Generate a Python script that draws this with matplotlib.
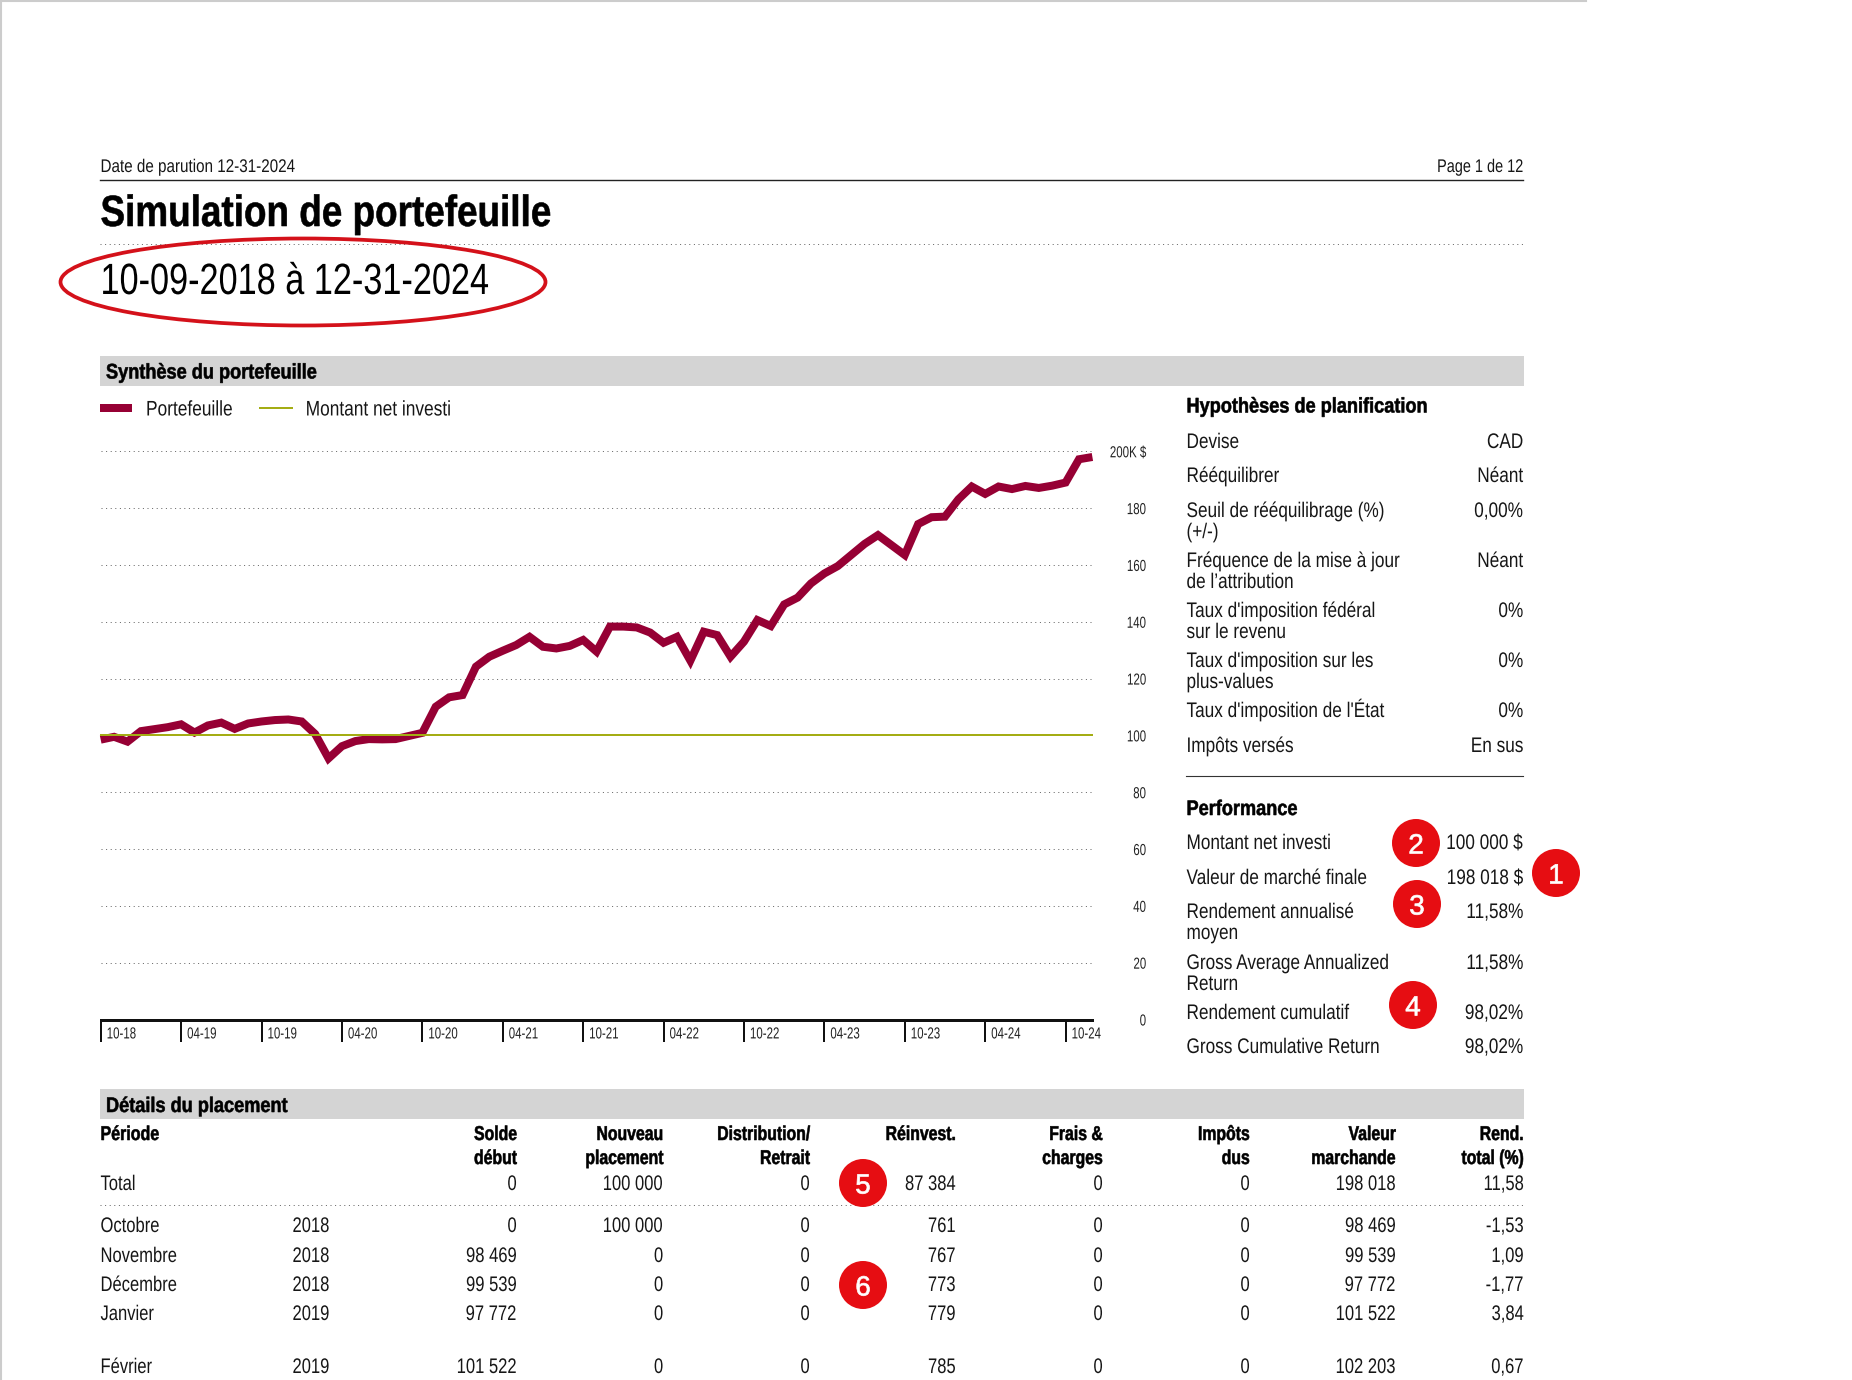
import matplotlib
matplotlib.use("Agg")
import matplotlib.pyplot as plt
from matplotlib.patches import Ellipse, Rectangle
from matplotlib.path import Path
from matplotlib.patheffects import AbstractPathEffect
from matplotlib.transforms import Affine2D, ScaledTranslation

plt.rcParams["font.family"] = ["Liberation Sans", "DejaVu Sans"]

WIDTH, HEIGHT = 1852, 1380
PX = 0.72  # points per pixel at dpi 100

# Portfolio value in thousands, month by month from 10-18 to 12-24
portfolio = [
    98.5, 99.5, 97.8, 101.5, 102.2, 102.9, 103.9, 101.0, 103.5, 104.5,
    102.3, 104.2, 104.9, 105.4, 105.6, 104.9, 100.5, 91.9, 96.2, 98.0,
    98.7, 98.6, 98.7, 99.8, 100.9, 110.1, 113.4, 114.2, 124.2, 127.7,
    129.8, 131.8, 134.7, 131.2, 130.6, 131.5, 133.6, 129.5, 138.3, 138.3,
    138.0, 136.2, 132.6, 134.7, 126.3, 136.5, 135.3, 127.7, 133.0, 140.6,
    138.5, 146.1, 148.5, 153.5, 157.0, 159.6, 163.5, 167.4, 170.5, 167.0,
    163.5, 174.4, 176.8, 177.0, 183.1, 187.6, 185.0, 187.6, 186.7, 187.8,
    187.1, 187.9, 189.0, 197.2, 198.0,
]
net_invested = [100.0] * len(portfolio)
x_ticks = [0, 6, 12, 18, 24, 30, 36, 42, 48, 54, 60, 66, 72]
x_labels = ["10-18", "04-19", "10-19", "04-20", "10-20", "04-21", "10-21",
            "04-22", "10-22", "04-23", "10-23", "04-24", "10-24"]
y_ticks = [0, 20, 40, 60, 80, 100, 120, 140, 160, 180, 200]
y_labels = ["0", "20", "40", "60", "80", "100", "120", "140", "160", "180", "200K $"]

# Planning assumptions: label lines, value
assumption_labels = ["Devise", "Rééquilibrer", "Seuil de rééquilibrage (%)\n(+/-)",
                     "Fréquence de la mise à jour\nde l’attribution",
                     "Taux d'imposition fédéral\nsur le revenu",
                     "Taux d'imposition sur les\nplus-values",
                     "Taux d'imposition de l'État", "Impôts versés"]
assumption_values = ["CAD", "Néant", "0,00%", "Néant", "0%", "0%", "0%", "En sus"]
assumption_rows = [448, 482, 517, 567, 617, 667, 717, 752]

performance_labels = ["Montant net investi", "Valeur de marché finale",
                      "Rendement annualisé\nmoyen", "Gross Average Annualized\nReturn",
                      "Rendement cumulatif", "Gross Cumulative Return"]
performance_values = ["100 000 $", "198 018 $", "11,58%", "11,58%", "98,02%", "98,02%"]
performance_rows = [849, 884, 918, 969, 1019, 1053]

# Investment detail table
column_heads = [("Solde", "début"), ("Nouveau", "placement"), ("Distribution/", "Retrait"),
                ("Réinvest.", ""), ("Frais &", "charges"), ("Impôts", "dus"),
                ("Valeur", "marchande"), ("Rend.", "total (%)")]
column_right = [517, 663.5, 810, 956, 1103, 1250, 1396, 1524]
months = ["Total", "Octobre", "Novembre", "Décembre", "Janvier", "Février"]
years = ["", "2018", "2018", "2018", "2019", "2019"]
row_y = [1190, 1232, 1262, 1291, 1320, 1373]
start_balance = ["0", "0", "98 469", "99 539", "97 772", "101 522"]
new_money = ["100 000", "100 000", "0", "0", "0", "0"]
withdrawals = ["0", "0", "0", "0", "0", "0"]
reinvested = ["87 384", "761", "767", "773", "779", "785"]
fees = ["0", "0", "0", "0", "0", "0"]
taxes = ["0", "0", "0", "0", "0", "0"]
market_value = ["198 018", "98 469", "99 539", "97 772", "101 522", "102 203"]
total_return = ["11,58", "-1,53", "1,09", "-1,77", "3,84", "0,67"]
table_columns = [start_balance, new_money, withdrawals, reinvested,
                 fees, taxes, market_value, total_return]

# Numbered red callouts
callouts = [("1", 1556, 873), ("2", 1416, 843), ("3", 1417, 904),
            ("4", 1413, 1005), ("5", 863, 1183), ("6", 863, 1285)]

RED = "#e60d12"
WINE = "#960034"
OLIVE = "#a4ad14"
BAND = "#d4d4d4"
INK = "#161616"
BODY = 15.2


class Condense(AbstractPathEffect):
    """Squeeze glyph outlines sideways, no condensed face being available."""

    def __init__(self, squeeze, anchor=0.0, stroke=0.0):
        super().__init__()
        self.squeeze = squeeze
        self.anchor = anchor
        self.stroke = stroke

    def draw_path(self, renderer, gc, tpath, affine, rgbFace=None):
        extent = tpath.get_extents().x1
        narrow = (Affine2D().scale(self.squeeze, 1)
                  .translate(self.anchor * extent * (1 - self.squeeze), 0))
        path = Path(narrow.transform(tpath.vertices), tpath.codes)
        gc0 = renderer.new_gc()
        gc0.copy_properties(gc)
        if self.stroke:
            gc0.set_foreground(rgbFace)
            gc0.set_linewidth(self.stroke)
        renderer.draw_path(gc0, path, affine, rgbFace)
        gc0.restore()


def main():
    fig = plt.figure(figsize=(WIDTH / 100, HEIGHT / 100), dpi=100)

    # Whole-page layer in pixel coordinates
    page = fig.add_axes([0, 0, 1, 1])
    page.set_xlim(0, WIDTH)
    page.set_ylim(HEIGHT, 0)
    page.axis("off")

    def label(x, y, s, ha="left", size=BODY, color=INK, squeeze=0.815, stroke=0.0):
        anchor = {"left": 0.0, "center": 0.5, "right": 1.0}[ha]
        page.text(x, y, s, ha=ha, va="baseline", fontsize=size, color=color,
                  path_effects=[Condense(squeeze, anchor, stroke)])

    def heading(x, y, s, ha="left", size=15.2, squeeze=0.86):
        page.text(x, y, s, ha=ha, va="baseline", fontsize=size, fontweight="bold",
                  color="black",
                  path_effects=[Condense(squeeze, 1.0 if ha == "right" else 0.0, 0.4)])

    def dotted(y):
        page.plot([100, 1523], [y, y], color="#666666", lw=1 * PX,
                  linestyle=(0, (1, 3.6)), zorder=1)

    # sheet edges
    page.plot([0, 1586], [0.5, 0.5], color="#cccccc", lw=1.5)
    page.plot([0.5, 0.5], [0, HEIGHT], color="#cccccc", lw=1.5)

    # header block
    label(100.5, 172, "Date de parution 12-31-2024", size=13.2, squeeze=0.83)
    label(1523.5, 172, "Page 1 de 12", ha="right", size=13.2, squeeze=0.79)
    page.plot([100, 1523], [180, 180], color="#222222", lw=1)
    heading(100.5, 226, "Simulation de portefeuille", size=31.5, squeeze=0.843)
    dotted(244)
    label(100.5, 294, "10-09-2018 à 12-31-2024", size=31.5, color="black", squeeze=0.783)
    page.add_patch(Ellipse((303, 282), 485, 87, fill=False, edgecolor="#d4111a", lw=2.7, zorder=3))

    # section bands
    page.add_patch(Rectangle((100, 356), 1424, 30, color=BAND, lw=0))
    heading(106, 378.5, "Synthèse du portefeuille")
    page.add_patch(Rectangle((100, 1089), 1424, 30, color=BAND, lw=0))
    heading(106, 1112, "Détails du placement")

    # planning assumptions
    heading(1186.5, 412.5, "Hypothèses de planification")
    for text, value, y in zip(assumption_labels, assumption_values, assumption_rows):
        first, *rest = text.split("\n")
        label(1186.5, y, first)
        if rest:
            label(1186.5, y + 21, rest[0])
        label(1523.5, y, value, ha="right")
    page.plot([1186, 1523], [776, 776], color="#333333", lw=0.8)

    # performance
    heading(1186.5, 815, "Performance")
    for text, value, y in zip(performance_labels, performance_values, performance_rows):
        first, *rest = text.split("\n")
        label(1186.5, y, first)
        if rest:
            label(1186.5, y + 21, rest[0])
        label(1523.5, y, value, ha="right")

    # detail table
    heading(100.5, 1140, "Période", size=14.4, squeeze=0.8)
    for (top, bottom), right in zip(column_heads, column_right):
        heading(right, 1140, top, ha="right", size=14.4, squeeze=0.79)
        heading(right, 1164, bottom, ha="right", size=14.4, squeeze=0.79)
    dotted(1205)
    for i, y in enumerate(row_y):
        label(100.5, y, months[i], squeeze=0.785)
        label(292.5, y, years[i], squeeze=0.785)
        for column, right in zip(table_columns, column_right):
            label(right, y, column[i], ha="right", squeeze=0.785)

    # callouts
    for number, cx, cy in callouts:
        page.add_patch(Ellipse((cx, cy), 48, 48, color=RED, lw=0, zorder=4))
        page.text(cx, cy + 0.5, number, ha="center", va="center_baseline", fontsize=20,
                  color="white", zorder=5, path_effects=[Condense(1.0, 0.5, 0.5)])

    # Value chart, y runs 0 to 200 between the baseline and the top gridline
    top_px, bottom_px = 451.3, 1019.5
    left_px, right_px = 100.7, 1092.4
    ax = fig.add_axes([left_px / WIDTH, 1 - bottom_px / HEIGHT,
                       (right_px - left_px) / WIDTH, (bottom_px - top_px) / HEIGHT])
    ax.patch.set_alpha(0)
    ax.set_xlim(0, len(portfolio) - 1)
    ax.set_ylim(0, 200)

    ax.plot(portfolio, color=WINE, lw=8 * PX, solid_joinstyle="miter",
            solid_capstyle="butt", clip_on=False, label="Portefeuille", zorder=3)
    ax.plot(net_invested, color=OLIVE, lw=2 * PX, clip_on=False,
            label="Montant net investi", zorder=4)

    for side in ("top", "left", "right"):
        ax.spines[side].set_visible(False)
    ax.spines["bottom"].set_linewidth(3 * PX)
    ax.spines["bottom"].set_color("#111111")

    ax.set_yticks(y_ticks, y_labels, ha="right", color="#222222", fontsize=11.5)
    ax.tick_params(axis="y", left=False, right=False, labelleft=False, labelright=True,
                   pad=49 * PX)
    for tick_label in ax.get_yticklabels():
        tick_label.set_path_effects([Condense(0.72, 1.0)])
    ax.grid(axis="y", color="#666666", lw=1 * PX, linestyle=(0, (1, 3.6)))
    ax.set_axisbelow(True)

    ax.set_xticks(x_ticks, x_labels, ha="left", color="#222222", fontsize=11.5)
    ax.tick_params(axis="x", length=22 * PX, width=2 * PX, color="#111111",
                   pad=-22 * PX + 5)
    shift = ScaledTranslation(6 / 100, 0, fig.dpi_scale_trans)
    for tick_label in ax.get_xticklabels():
        tick_label.set_transform(tick_label.get_transform() + shift)
        tick_label.set_path_effects([Condense(0.72, 0.0)])

    legend = ax.legend(loc="lower left", bbox_to_anchor=(-0.0005, 1.056), ncol=2, frameon=False,
                       fontsize=BODY, handlelength=1.52, handletextpad=0.65, columnspacing=0.39,
                       borderaxespad=0, borderpad=0, labelcolor=INK)
    for text in legend.get_texts():
        text.set_path_effects([Condense(0.82, 0.0)])

    fig.savefig("out.png", dpi=100)
    plt.close(fig)


if __name__ == "__main__":
    main()
